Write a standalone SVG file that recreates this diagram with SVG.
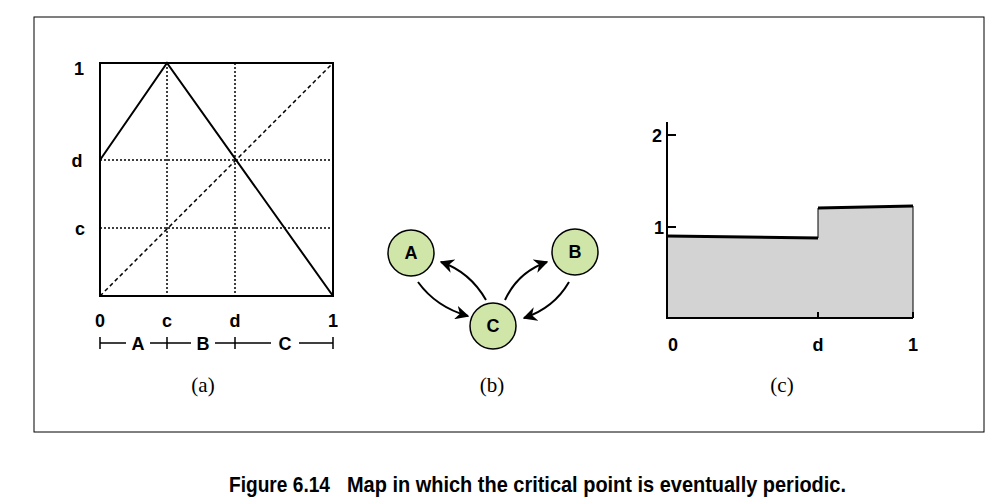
<svg xmlns="http://www.w3.org/2000/svg" width="1000" height="504" viewBox="0 0 1000 504">
<defs><marker id="ah" viewBox="0 0 10 10" refX="9" refY="5" markerWidth="7" markerHeight="7" orient="auto"><path d="M0,0 L10,5 L0,10 L3,5 z" fill="#000"/></marker></defs>
<style>
.l{font-family:"Liberation Sans",Arial,sans-serif;font-weight:bold;font-size:18px;text-anchor:middle}
.cap{font-family:"Liberation Serif",serif;font-size:21px;text-anchor:middle}
.fc{font-family:"Liberation Sans",Arial,sans-serif;font-weight:bold;font-size:22px}
.dot{stroke:#000;stroke-width:1.5;stroke-dasharray:2,2;fill:none}
.s{stroke:#000;stroke-width:2;fill:none}
.n{fill:#cfe6a8;stroke:#000;stroke-width:1.5}
</style>
<rect width="1000" height="504" fill="#fff"/>
<rect x="34" y="17" width="950" height="415" fill="none" stroke="#000" stroke-width="1"/>
<g id="panel-a">
<line class="dot" x1="167" y1="63" x2="167" y2="296"/>
<line class="dot" x1="235" y1="63" x2="235" y2="296"/>
<line class="dot" x1="100" y1="160" x2="333" y2="160"/>
<line class="dot" x1="100" y1="228" x2="333" y2="228"/>
<line x1="100" y1="296" x2="333" y2="63" stroke="#000" stroke-width="1.5" stroke-dasharray="4,3"/>
<rect x="100" y="63" width="233" height="233" class="s"/>
<polyline class="s" points="100,160 167,63 333,296"/>
<text class="l" x="79" y="75">1</text><text class="l" x="77" y="167">d</text><text class="l" x="80" y="235">c</text>
<text class="l" x="100" y="327">0</text><text class="l" x="167" y="327">c</text><text class="l" x="235" y="327">d</text><text class="l" x="333" y="327">1</text>
<path d="M100,343 H126 M150,343 H191 M215,343 H271 M299,343 H333 M100,337 V349 M167,337 V349 M235,337 V349 M333,337 V349" stroke="#000" stroke-width="1.5"/>
<text class="l" x="138" y="350">A</text><text class="l" x="203" y="350">B</text><text class="l" x="285" y="350">C</text>
<text class="cap" x="203" y="392">(a)</text>
</g>
<g id="connectors" class="s">
<path d="M418,282 Q436,307 468,316" marker-end="url(#ah)"/>
<path d="M486,300 Q470,272 441,262" marker-end="url(#ah)"/>
<path d="M505,300 Q518,272 547,262" marker-end="url(#ah)"/>
<path d="M569,282 Q554,308 524,318" marker-end="url(#ah)"/>
</g>
<g id="node-A"><circle class="n" cx="411" cy="253" r="23"/><text class="l" x="411" y="259">A</text></g>
<g id="node-B"><circle class="n" cx="575" cy="252" r="23"/><text class="l" x="575" y="258">B</text></g>
<g id="node-C"><circle class="n" cx="493" cy="326" r="23"/><text class="l" x="493" y="332">C</text></g>
<text class="cap" x="492" y="392">(b)</text>
<g id="panel-c">
<path d="M667,236 L818,238 L818,208 L913,206 L913,318 L667,318 z" fill="#d3d3d3"/>
<path d="M667,236 L818,238 M818,208 L913,206" stroke="#000" stroke-width="3"/>
<path d="M818,238 V208 M913,206 V318" stroke="#000" stroke-width="1"/>
<path d="M667,122 V318 H913 M667,135 H676 M667,227 H676 M818,312 V318 M913,312 V318" stroke="#000" stroke-width="2" fill="none"/>
<text class="l" x="657" y="142">2</text><text class="l" x="659" y="234">1</text>
<text class="l" x="673" y="351">0</text><text class="l" x="818" y="351">d</text><text class="l" x="913" y="351">1</text>
<text class="cap" x="782" y="392">(c)</text>
</g>
<text class="fc" x="229" y="492" textLength="101" lengthAdjust="spacingAndGlyphs">Figure 6.14</text>
<text class="fc" x="347" y="492" textLength="499" lengthAdjust="spacingAndGlyphs">Map in which the critical point is eventually periodic.</text>
</svg>
